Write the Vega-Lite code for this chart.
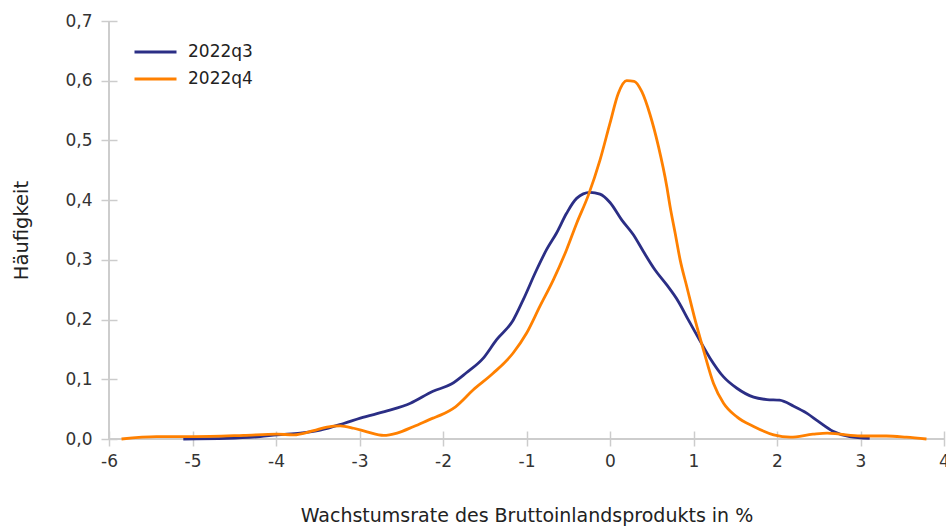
{
  "$schema": "https://vega.github.io/schema/vega-lite/v6.json",
  "width": 835,
  "height": 418,
  "autosize": {"type": "none"},
  "padding": {"left": 109, "top": 21, "right": 2, "bottom": 87},
  "background": "white",
  "config": {"view": {"stroke": null}, "font": "DejaVu Sans"},
  "datasets": {
    "dens": [
      {"series": "2022q3", "x": -5.11, "y": 0.0},
      {"series": "2022q3", "x": -4.59, "y": 0.001},
      {"series": "2022q3", "x": -4.19, "y": 0.004},
      {"series": "2022q3", "x": -3.99, "y": 0.007},
      {"series": "2022q3", "x": -3.71, "y": 0.010},
      {"series": "2022q3", "x": -3.47, "y": 0.015},
      {"series": "2022q3", "x": -3.19, "y": 0.026},
      {"series": "2022q3", "x": -2.99, "y": 0.035},
      {"series": "2022q3", "x": -2.67, "y": 0.047},
      {"series": "2022q3", "x": -2.39, "y": 0.060},
      {"series": "2022q3", "x": -2.12, "y": 0.080},
      {"series": "2022q3", "x": -1.90, "y": 0.092},
      {"series": "2022q3", "x": -1.72, "y": 0.111},
      {"series": "2022q3", "x": -1.52, "y": 0.135},
      {"series": "2022q3", "x": -1.36, "y": 0.166},
      {"series": "2022q3", "x": -1.16, "y": 0.199},
      {"series": "2022q3", "x": -1.04, "y": 0.233},
      {"series": "2022q3", "x": -0.88, "y": 0.283},
      {"series": "2022q3", "x": -0.76, "y": 0.317},
      {"series": "2022q3", "x": -0.64, "y": 0.345},
      {"series": "2022q3", "x": -0.52, "y": 0.378},
      {"series": "2022q3", "x": -0.40, "y": 0.403},
      {"series": "2022q3", "x": -0.24, "y": 0.413},
      {"series": "2022q3", "x": -0.12, "y": 0.410},
      {"series": "2022q3", "x": 0.0, "y": 0.396},
      {"series": "2022q3", "x": 0.14, "y": 0.367},
      {"series": "2022q3", "x": 0.28, "y": 0.342},
      {"series": "2022q3", "x": 0.40, "y": 0.314},
      {"series": "2022q3", "x": 0.54, "y": 0.283},
      {"series": "2022q3", "x": 0.68, "y": 0.258},
      {"series": "2022q3", "x": 0.82, "y": 0.230},
      {"series": "2022q3", "x": 0.94, "y": 0.199},
      {"series": "2022q3", "x": 1.06, "y": 0.169},
      {"series": "2022q3", "x": 1.20, "y": 0.135},
      {"series": "2022q3", "x": 1.36, "y": 0.104},
      {"series": "2022q3", "x": 1.52, "y": 0.085},
      {"series": "2022q3", "x": 1.72, "y": 0.070},
      {"series": "2022q3", "x": 1.88, "y": 0.066},
      {"series": "2022q3", "x": 2.03, "y": 0.065},
      {"series": "2022q3", "x": 2.20, "y": 0.055},
      {"series": "2022q3", "x": 2.36, "y": 0.043},
      {"series": "2022q3", "x": 2.49, "y": 0.030},
      {"series": "2022q3", "x": 2.67, "y": 0.013},
      {"series": "2022q3", "x": 2.87, "y": 0.004},
      {"series": "2022q3", "x": 3.11, "y": 0.001},
      {"series": "2022q4", "x": -5.85, "y": 0.0},
      {"series": "2022q4", "x": -5.43, "y": 0.004},
      {"series": "2022q4", "x": -4.99, "y": 0.004},
      {"series": "2022q4", "x": -4.39, "y": 0.006},
      {"series": "2022q4", "x": -3.99, "y": 0.008},
      {"series": "2022q4", "x": -3.79, "y": 0.007},
      {"series": "2022q4", "x": -3.55, "y": 0.014},
      {"series": "2022q4", "x": -3.39, "y": 0.020},
      {"series": "2022q4", "x": -3.23, "y": 0.022},
      {"series": "2022q4", "x": -3.07, "y": 0.018},
      {"series": "2022q4", "x": -2.91, "y": 0.012},
      {"series": "2022q4", "x": -2.71, "y": 0.006},
      {"series": "2022q4", "x": -2.55, "y": 0.010},
      {"series": "2022q4", "x": -2.35, "y": 0.021},
      {"series": "2022q4", "x": -2.12, "y": 0.035},
      {"series": "2022q4", "x": -2.03, "y": 0.040},
      {"series": "2022q4", "x": -1.85, "y": 0.054},
      {"series": "2022q4", "x": -1.64, "y": 0.082},
      {"series": "2022q4", "x": -1.40, "y": 0.110},
      {"series": "2022q4", "x": -1.16, "y": 0.144},
      {"series": "2022q4", "x": -1.00, "y": 0.177},
      {"series": "2022q4", "x": -0.84, "y": 0.222},
      {"series": "2022q4", "x": -0.68, "y": 0.266},
      {"series": "2022q4", "x": -0.52, "y": 0.317},
      {"series": "2022q4", "x": -0.40, "y": 0.361},
      {"series": "2022q4", "x": -0.26, "y": 0.408},
      {"series": "2022q4", "x": -0.12, "y": 0.467},
      {"series": "2022q4", "x": 0.0, "y": 0.529},
      {"series": "2022q4", "x": 0.10, "y": 0.579},
      {"series": "2022q4", "x": 0.20, "y": 0.600},
      {"series": "2022q4", "x": 0.29, "y": 0.599},
      {"series": "2022q4", "x": 0.38, "y": 0.582},
      {"series": "2022q4", "x": 0.48, "y": 0.543},
      {"series": "2022q4", "x": 0.58, "y": 0.490},
      {"series": "2022q4", "x": 0.68, "y": 0.423},
      {"series": "2022q4", "x": 0.72, "y": 0.389},
      {"series": "2022q4", "x": 0.78, "y": 0.345},
      {"series": "2022q4", "x": 0.84, "y": 0.300},
      {"series": "2022q4", "x": 0.92, "y": 0.255},
      {"series": "2022q4", "x": 1.02, "y": 0.199},
      {"series": "2022q4", "x": 1.12, "y": 0.149},
      {"series": "2022q4", "x": 1.24, "y": 0.093},
      {"series": "2022q4", "x": 1.36, "y": 0.060},
      {"series": "2022q4", "x": 1.52, "y": 0.037},
      {"series": "2022q4", "x": 1.72, "y": 0.021},
      {"series": "2022q4", "x": 1.96, "y": 0.007},
      {"series": "2022q4", "x": 2.16, "y": 0.003},
      {"series": "2022q4", "x": 2.43, "y": 0.008},
      {"series": "2022q4", "x": 2.60, "y": 0.010},
      {"series": "2022q4", "x": 2.75, "y": 0.008},
      {"series": "2022q4", "x": 3.00, "y": 0.005},
      {"series": "2022q4", "x": 3.31, "y": 0.005},
      {"series": "2022q4", "x": 3.55, "y": 0.003},
      {"series": "2022q4", "x": 3.79, "y": 0.0}
    ]
  },
  "data": {"name": "dens"},
  "layer": [
    {
      "mark": {"type": "rule", "color": "#cccccc", "strokeWidth": 1.5},
      "encoding": {
        "y": {"datum": 0, "type": "quantitative", "scale": {"domain": [0, 0.7], "nice": false, "zero": false}, "title": "Häufigkeit"}
      }
    },
    {
      "mark": {"type": "rule", "color": "#cccccc", "strokeWidth": 1.5},
      "encoding": {
        "x": {"datum": -6, "type": "quantitative", "scale": {"domain": [-6, 4], "nice": false, "zero": false}, "title": "Wachstumsrate des Bruttoinlandsprodukts in %"}
      }
    },
    {
      "mark": {"type": "line", "strokeWidth": 2.8, "interpolate": "monotone", "clip": false},
      "encoding": {
        "x": {
          "field": "x", "type": "quantitative",
          "scale": {"domain": [-6, 4], "nice": false, "zero": false},
          "title": "Wachstumsrate des Bruttoinlandsprodukts in %",
          "axis": {
            "values": [-6, -5, -4, -3, -2, -1, 0, 1, 2, 3, 4],
            "domain": false, "grid": false, "offset": -8, "tickSize": 15,
            "tickColor": "#cccccc", "tickWidth": 1.5,
            "labelFont": "DejaVu Sans", "labelFontSize": 17, "labelColor": "#333333",
            "labelPadding": 7, "labelExpr": "datum.value + ''",
            "labelFlush": false, "labelOverlap": false,
            "titleFont": "DejaVu Sans", "titleFontSize": 19, "titleFontWeight": "normal",
            "titleColor": "#222222", "titlePadding": 37
          }
        },
        "y": {
          "field": "y", "type": "quantitative",
          "scale": {"domain": [0, 0.7], "nice": false, "zero": false},
          "title": "Häufigkeit",
          "axis": {
            "values": [0, 0.1, 0.2, 0.3, 0.4, 0.5, 0.6, 0.7],
            "domain": false, "grid": false, "offset": -8, "tickSize": 16,
            "tickColor": "#cccccc", "tickWidth": 1.5,
            "labelFont": "DejaVu Sans", "labelFontSize": 17, "labelColor": "#333333",
            "labelPadding": 9, "labelExpr": "replace(format(datum.value, '.1f'), '.', ',')",
            "labelFlush": false, "labelOverlap": false,
            "titleFont": "DejaVu Sans", "titleFontSize": 19.5, "titleFontWeight": "normal",
            "titleColor": "#222222", "titlePadding": 33
          }
        },
        "color": {
          "field": "series", "type": "nominal",
          "scale": {"domain": ["2022q3", "2022q4"], "range": ["#2b2e85", "#ff8000"]},
          "legend": {
            "title": null, "orient": "none", "legendX": 24, "legendY": 21,
            "symbolType": "stroke", "symbolSize": 1764, "symbolStrokeWidth": 3,
            "labelFont": "DejaVu Sans", "labelFontSize": 17, "labelColor": "#222222",
            "labelOffset": 10, "clipHeight": 20, "rowPadding": 7, "padding": 0
          }
        }
      }
    }
  ]
}
